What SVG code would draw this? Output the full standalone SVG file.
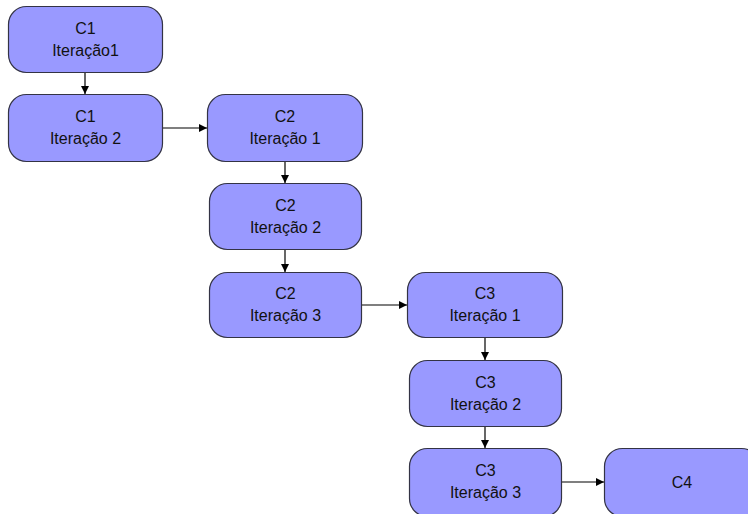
<svg xmlns="http://www.w3.org/2000/svg" width="748" height="514" viewBox="0 0 748 514">
<style>
.n{fill:#9999FF;stroke:#333344;stroke-width:1.2}
.t{font-family:"Liberation Sans",Arial,sans-serif;font-size:16px;fill:#111;text-anchor:middle}
.c{stroke:#000;stroke-width:1.2;fill:none;marker-end:url(#ah)}
</style>
<defs>
<marker id="ah" viewBox="0 0 10 10" refX="10" refY="5" markerWidth="8" markerHeight="8" markerUnits="userSpaceOnUse" orient="auto">
<path d="M0,0 L10,5 L0,10 Z" fill="#000"/>
</marker>
</defs>
<rect width="748" height="514" fill="#fff"/>
<g id="connectors">
<line class="c" x1="85" y1="72" x2="85" y2="94"/>
<line class="c" x1="163" y1="128" x2="207" y2="128"/>
<line class="c" x1="285" y1="162" x2="285" y2="183"/>
<line class="c" x1="285" y1="250" x2="285" y2="272"/>
<line class="c" x1="362" y1="305" x2="407" y2="305"/>
<line class="c" x1="485" y1="338" x2="485" y2="360"/>
<line class="c" x1="485" y1="427" x2="485" y2="448"/>
<line class="c" x1="562" y1="482" x2="604" y2="482"/>
</g>
<g id="n1"><rect class="n" x="8.5" y="6.5" width="154" height="66" rx="18"/><text class="t" x="85.5" y="34">C1</text><text class="t" x="85.5" y="56">Iteração1</text></g>
<g id="n2"><rect class="n" x="8.5" y="94.5" width="154" height="67" rx="18"/><text class="t" x="85.5" y="122">C1</text><text class="t" x="85.5" y="144">Iteração 2</text></g>
<g id="n3"><rect class="n" x="207.5" y="94.5" width="155" height="67" rx="18"/><text class="t" x="285" y="122">C2</text><text class="t" x="285" y="144">Iteração 1</text></g>
<g id="n4"><rect class="n" x="209.5" y="183.5" width="152" height="66" rx="18"/><text class="t" x="285.5" y="211">C2</text><text class="t" x="285.5" y="233">Iteração 2</text></g>
<g id="n5"><rect class="n" x="209.5" y="272.5" width="152" height="65" rx="18"/><text class="t" x="285.5" y="299">C2</text><text class="t" x="285.5" y="321">Iteração 3</text></g>
<g id="n6"><rect class="n" x="407.5" y="272.5" width="155" height="65" rx="18"/><text class="t" x="485" y="299">C3</text><text class="t" x="485" y="321">Iteração 1</text></g>
<g id="n7"><rect class="n" x="409.5" y="360.5" width="152" height="66" rx="18"/><text class="t" x="485.5" y="388">C3</text><text class="t" x="485.5" y="410">Iteração 2</text></g>
<g id="n8"><rect class="n" x="409.5" y="448.5" width="152" height="68" rx="18"/><text class="t" x="485.5" y="476">C3</text><text class="t" x="485.5" y="498">Iteração 3</text></g>
<g id="n9"><rect class="n" x="604.5" y="448.5" width="155" height="68" rx="18"/><text class="t" x="682" y="488">C4</text></g>
</svg>
